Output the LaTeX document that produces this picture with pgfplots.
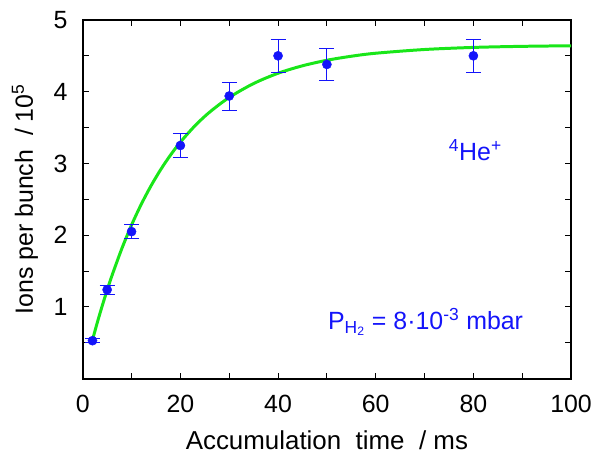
\documentclass[border=0pt]{standalone}
\usepackage{pgfplots}
\pgfplotsset{compat=1.18}
\usepackage{fontspec}
\setmainfont{Liberation Sans}
\definecolor{dblue}{RGB}{20,20,250}
\definecolor{fgreen}{RGB}{25,230,25}
\begin{document}
\begin{tikzpicture}
\begin{axis}[
  scale only axis, width=490pt, height=360pt,
  xmin=0, xmax=100, ymin=0, ymax=5,
  xtick={0,20,...,100}, minor xtick={10,30,...,90},
  ytick={1,2,3,4,5}, minor ytick={0.5,1.5,...,4.5},
  tick align=inside, tick pos=both,
  major tick length=6pt, minor tick length=6pt,
  every tick/.style={black, line width=1pt},
  axis line style={line width=1.8pt},
  /pgf/number format/assume math mode=true,
  tick label style={font=\fontsize{25}{28}\selectfont, inner sep=0pt},
  xticklabel style={anchor=north, yshift=-16pt},
  yticklabel style={anchor=east, xshift=-15pt},
  every axis x label/.style={at={(rel axis cs:0.5,0)}, yshift=-71pt, anchor=base, font=\fontsize{26}{29}\selectfont},
  every axis y label/.style={at={(rel axis cs:0,0.5)}, xshift=-58pt, rotate=90, anchor=center, font=\fontsize{25}{28}\selectfont},
  xlabel={Accumulation\ \ time\ \ / ms},
  ylabel={Ions per bunch\ \ / 10\textsuperscript{5}},
  clip=false,
]
\addplot[fgreen, line width=3pt, smooth] coordinates {
(2,0.540) (3,0.786) (4,1.017) (5,1.235) (6,1.439) (8,1.812) (10,2.142)
(12,2.433) (14,2.690) (16,2.918) (18,3.119) (20,3.297) (23,3.526)
(26,3.716) (30,3.920) (35,4.114) (40,4.257) (45,4.361) (50,4.438)
(55,4.494) (60,4.536) (70,4.588) (80,4.617) (90,4.632) (100,4.640)
};
\addplot[only marks, mark=*, mark size=4.6pt, color=dblue, draw=dblue, fill=dblue,
  error bars/.cd, y dir=both, y explicit,
  error bar style={draw=dblue, line width=0.9pt},
  error mark options={rotate=90, mark size=7.5pt, draw=dblue, color=dblue, line width=0.9pt}]
coordinates {
(2,0.53) +- (0,0.03)
(5,1.24) +- (0,0.06)
(10,2.05) +- (0,0.10)
(20,3.25) +- (0,0.165)
(30,3.94) +- (0,0.195)
(40,4.50) +- (0,0.225)
(50,4.38) +- (0,0.22)
(80,4.50) +- (0,0.225)
};
\node[dblue, font=\fontsize{25}{28}\selectfont] at (axis cs:80.4,3.19) {\textsuperscript{4}He\textsuperscript{+}};
\node[dblue, font=\fontsize{25}{28}\selectfont] at (axis cs:70.2,0.79) {P\textsubscript{H\textsubscript{2}} = 8·10\textsuperscript{-3} mbar};
\path (rel axis cs:0,0) ++(-83pt,-77pt) coordinate (bl);
\path (rel axis cs:1,1) ++(21pt,20pt) coordinate (tr);
\end{axis}
\pgfresetboundingbox
\useasboundingbox (bl) rectangle (tr);
\end{tikzpicture}
\end{document}
